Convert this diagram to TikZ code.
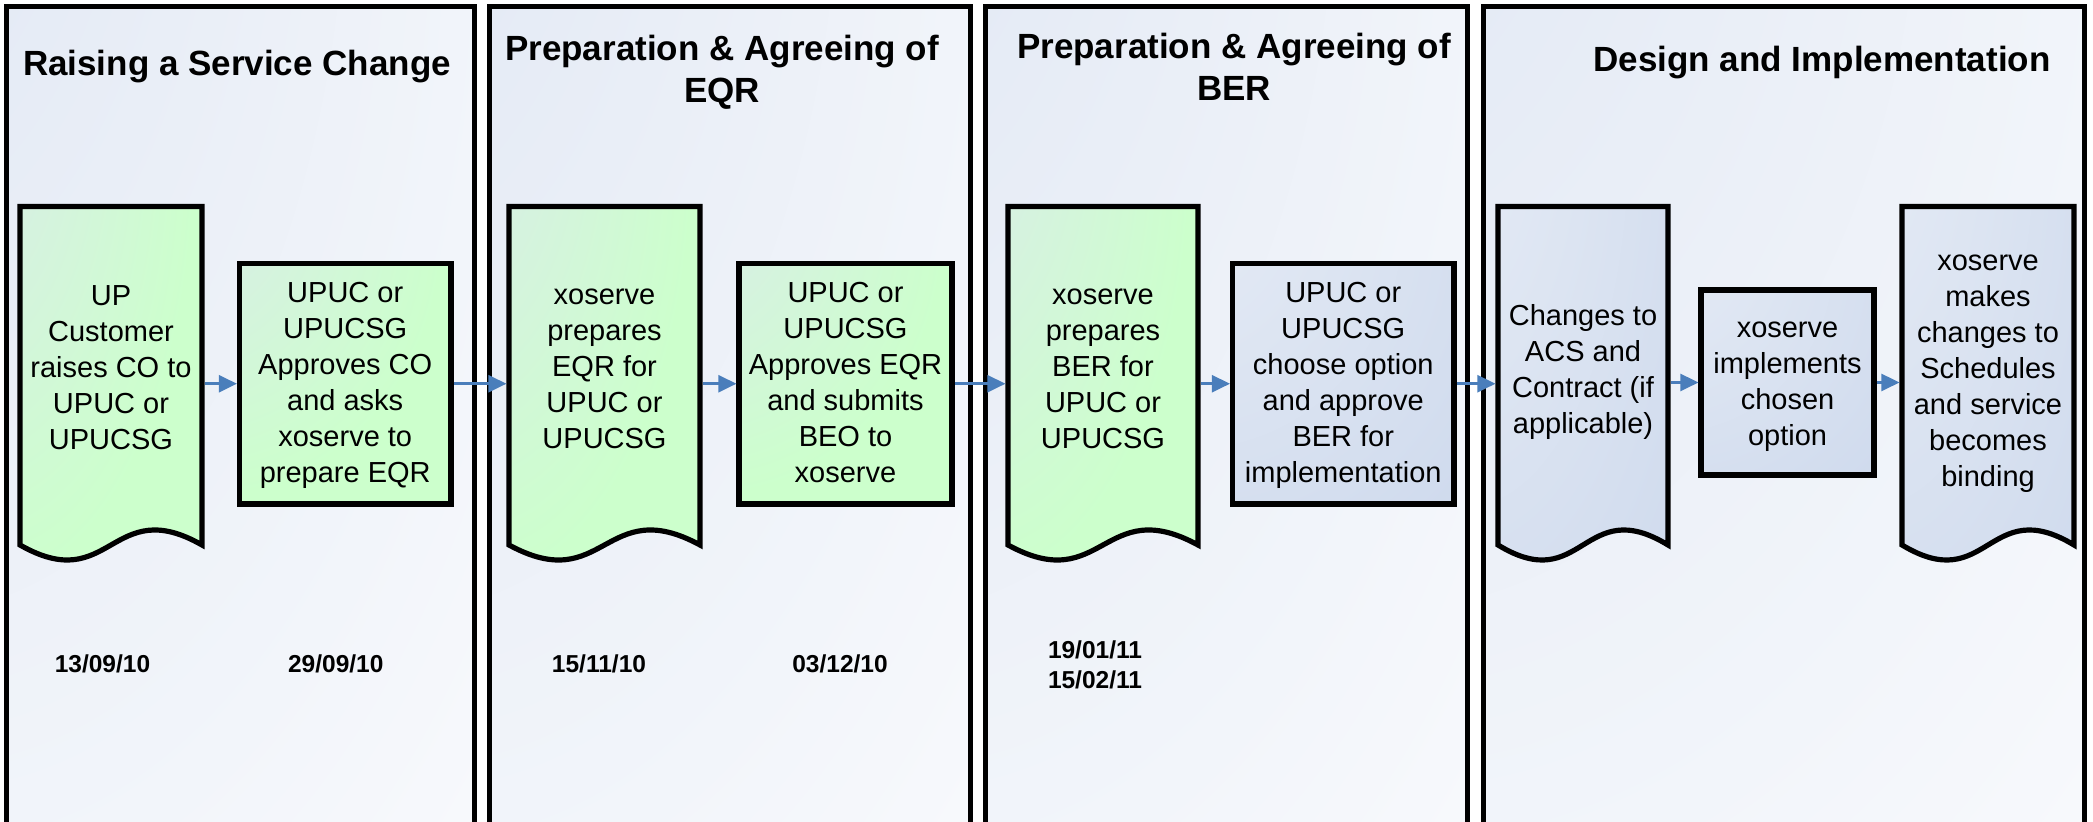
\documentclass[tikz,border=0pt]{standalone}
\usepackage{fontspec}
\setmainfont{Liberation Sans}
\usetikzlibrary{arrows.meta,fit}
\definecolor{panelA}{RGB}{220,228,242}
\definecolor{greenA}{RGB}{222,231,240}
\definecolor{greenB}{RGB}{204,255,204}
\definecolor{blueA}{RGB}{234,239,247}
\definecolor{blueB}{RGB}{199,212,234}
\definecolor{arrowblue}{RGB}{74,126,187}
\pgfdeclareradialshading{panelshade}{\pgfpoint{-50bp}{50bp}}{color(0bp)=(panelA); color(92bp)=(white); color(150bp)=(white)}
\pgfdeclareradialshading{greenshade}{\pgfpoint{-50bp}{50bp}}{color(0bp)=(greenA); color(55bp)=(greenB); color(150bp)=(greenB)}
\pgfdeclareradialshading{blueshade}{\pgfpoint{-50bp}{50bp}}{color(0bp)=(blueA); color(95bp)=(blueB); color(150bp)=(blueB)}
\newcommand\myBodyFont{\fontsize{14.5}{18}\selectfont}
\newcommand\myTitleFont{\fontsize{17.5}{21}\selectfont\bfseries}
\newcommand\myDateFont{\fontsize{12.25}{15}\selectfont\bfseries}
% document shape: #1 name, #2 left, #3 right, #4 shading, #5 text y, #6 text
\newcommand\docshape[6]{%
  \path[docframe, shading=#4] (#2,206.5) -- (#3,206.5) -- (#3,545)
     .. controls ({(#2+#3)/2},493) and ({(#2+#3)/2},597) .. (#2,545) -- cycle;
  \node[docarea, fit={(#2,206.5) (#3,528)}] (#1) {};
  \node[bodytext] (#1t) at ({(#2+#3)/2},#5) {#6};%
}
% process box: #1 name, #2 style, #3 left, #4 top, #5 right, #6 bottom, #7 text shift, #8 text
\newcommand\procbox[8]{%
  \node[#2, fit={(#3,#4) (#5,#6)}] (#1) {};
  \node[bodytext, yshift=#7] (#1t) at (#1.center) {#8};%
}
\begin{document}
\begin{tikzpicture}[x=0.5pt,y=-0.5pt,
  panel/.style={draw=black, line width=2.5pt, shade, shading=panelshade},
  docframe/.style={draw=black, line width=2.6pt, shade},
  docarea/.style={inner sep=0pt, outer sep=1.3pt},
  boxbase/.style={draw=black, line width=2.6pt, inner sep=0pt, outer sep=1.3pt},
  greenbox/.style={boxbase, shade, shading=greenshade},
  bluebox/.style={boxbase, shade, shading=blueshade},
  bodytext/.style={inner sep=0pt, align=center, font=\myBodyFont,
    execute at begin node=\strut, execute at end node=\strut},
  titletext/.style={align=center, inner sep=0pt, font=\myTitleFont},
  datetext/.style={align=center, inner sep=0pt, font=\myDateFont},
  arr/.style={draw=arrowblue, line width=1.4pt, -{Triangle[length=9pt,width=8.5pt]}}]
\useasboundingbox (0,0) rectangle (2093,822);
\clip (0,0) rectangle (2093,822);
\fill[white] (0,0) rectangle (2093,822);

% panels
\path[panel] (6.5,7) rectangle (474.5,840);
\path[panel] (489.5,7) rectangle (970.5,840);
\path[panel] (985.5,7) rectangle (1467.5,840);
\path[panel] (1483,7) rectangle (2084,840);

% titles
\node[titletext, anchor=base] (t1) at (237,76) {Raising a Service Change};
\node[titletext] (t2) at (722,72.5) {Preparation \& Agreeing of\\EQR};
\node[titletext] (t3) at (1234,67) {Preparation \& Agreeing of\\BER};
\node[titletext, anchor=base] (t4) at (1822,72) {Design and Implementation};

% shapes
\docshape{d1}{20}{202}{greenshade}{372.5}{UP\\Customer\\raises CO to\\UPUC or\\UPUCSG}
\procbox{b2}{greenbox}{239.5}{263.5}{451}{504}{-2pt}{UPUC or\\UPUCSG\\Approves CO\\and asks\\xoserve to\\prepare EQR}
\docshape{d3}{509}{700}{greenshade}{374.5}{xoserve\\prepares\\EQR for\\UPUC or\\UPUCSG}
\procbox{b4}{greenbox}{739}{263.5}{952}{504}{-2pt}{UPUC or\\UPUCSG\\Approves EQR\\and submits\\BEO to\\xoserve}
\docshape{d5}{1008}{1198}{greenshade}{374.5}{xoserve\\prepares\\BER for\\UPUC or\\UPUCSG}
\procbox{b6}{bluebox}{1232.5}{263.5}{1454}{504}{-2pt}{UPUC or\\UPUCSG\\choose option\\and approve\\BER for\\implementation}
\docshape{d7}{1498}{1668}{blueshade}{374.5}{Changes to\\ACS and\\Contract (if\\applicable)}
\procbox{b8}{bluebox}{1701}{290}{1874}{475}{-3.5pt}{xoserve\\implements\\chosen\\option}
\docshape{d9}{1902}{2074}{blueshade}{376.5}{xoserve\\makes\\changes to\\Schedules\\and service\\becomes\\binding}

% connectors
\draw[arr] (d1.east |- b2.west) -- (b2.west);
\draw[arr] (b2.east) -- (b2.east -| d3.west);
\draw[arr] (d3.east |- b4.west) -- (b4.west);
\draw[arr] (b4.east) -- (b4.east -| d5.west);
\draw[arr] (d5.east |- b6.west) -- (b6.west);
\draw[arr] (b6.east) -- (b6.east -| d7.west);
\draw[arr] (d7.east |- b8.west) -- (b8.west);
\draw[arr] (b8.east) -- (b8.east -| d9.west);

% dates
\node[datetext] (dt1) at (102.5,664) {13/09/10};
\node[datetext] (dt2) at (335.8,664) {29/09/10};
\node[datetext] (dt3) at (599,664) {15/11/10};
\node[datetext] (dt4) at (840,664) {03/12/10};
\node[datetext] (dt5) at (1095,665) {19/01/11\\15/02/11};
\end{tikzpicture}
\end{document}
